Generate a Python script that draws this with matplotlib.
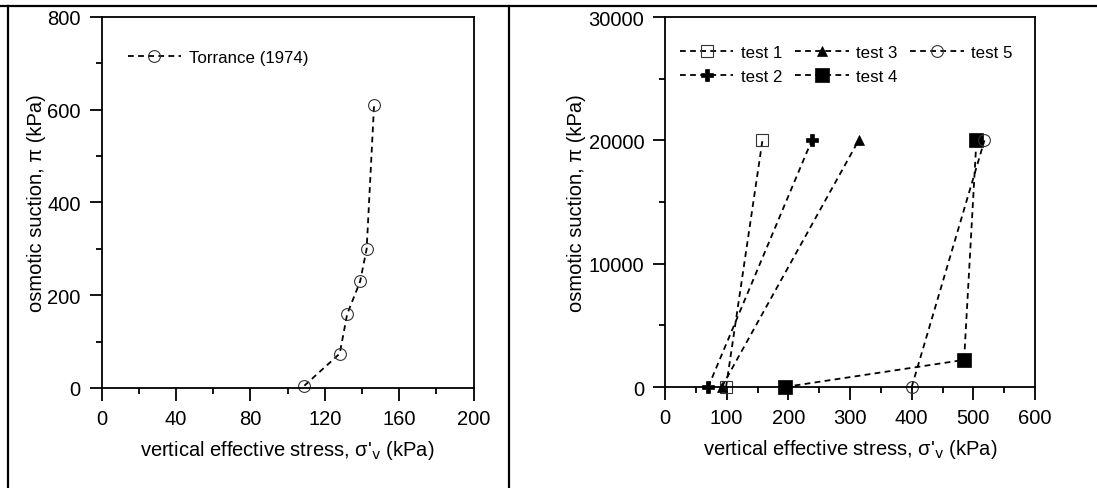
import matplotlib
matplotlib.use('Agg')
import matplotlib.pyplot as plt
from matplotlib import rcParams
from matplotlib.lines import Line2D
from matplotlib.ticker import MultipleLocator

rcParams['font.family'] = ['Liberation Sans', 'DejaVu Sans']
rcParams['mathtext.default'] = 'regular'
rcParams['font.size'] = 14.5

# left panel: Torrance (1974)
torrance_x = [109, 128, 132, 139, 142.5, 146.5]
torrance_y = [5, 74, 159, 230, 300, 611]

# right panel: tests 1-5
test_labels = ['test 1', 'test 2', 'test 3', 'test 4', 'test 5']
test_x = [[99, 158], [70, 238], [92, 314], [194, 485, 505], [400, 518]]
test_y = [[0, 20000], [0, 20000], [0, 20000], [0, 2200, 20000], [0, 20000]]

xlabel = "vertical effective stress, σ'$_{\\rm v}$ (kPa)"
ylabel = 'osmotic suction, π (kPa)'

dash = (0, (3.2, 2.4))
styles = [
    dict(marker='s', ms=8, mfc='none', mec='#333333', mew=0.8),
    dict(marker='P', ms=9, mfc='black', mec='black', mew=0.5),
    dict(marker='^', ms=7, mfc='black', mec='black', mew=0.5),
    dict(marker='s', ms=9.5, mfc='black', mec='black', mew=0.5),
    dict(marker='o', ms=8.5, mfc='none', mec='#333333', mew=0.8),
]


def style_axes(ax):
    for s in ax.spines.values():
        s.set_linewidth(1.3)
    ax.tick_params(which='major', direction='out', length=9, width=1.3, labelsize=14.5, pad=6,
                   top=False, right=False)
    ax.tick_params(which='minor', direction='out', length=4.5, width=1.3, top=False, right=False)
    ax.xaxis.set_label_coords(0.5, -0.165)
    ax.xaxis.label.set_va('center')
    ax.xaxis.label.set_fontsize(14.5)
    ax.yaxis.label.set_va('center')
    ax.yaxis.label.set_fontsize(14.5)


fig = plt.figure(figsize=(10.97, 4.89), dpi=100)

ax1 = fig.add_axes([0.0927, 0.2045, 0.339, 0.7587])
ax1.plot(torrance_x, torrance_y, color='black', lw=1.3, linestyle=dash, clip_on=False,
         marker='o', ms=8.5, mfc='none', mec='#333333', mew=0.8, label='Torrance (1974)')
ax1.set_xlim(0, 200)
ax1.set_ylim(0, 800)
ax1.xaxis.set_major_locator(MultipleLocator(40))
ax1.xaxis.set_minor_locator(MultipleLocator(20))
ax1.yaxis.set_major_locator(MultipleLocator(200))
ax1.yaxis.set_minor_locator(MultipleLocator(100))
ax1.set_xlabel(xlabel)
ax1.set_ylabel(ylabel)
style_axes(ax1)
ax1.yaxis.set_label_coords(-0.174, 0.5)
ax1.legend(loc='upper left', bbox_to_anchor=(0.052, 0.93), frameon=False, fontsize=12.2,
           handlelength=3.15, numpoints=1, borderaxespad=0, handletextpad=0.45)

ax2 = fig.add_axes([0.6062, 0.2065, 0.3373, 0.7566])
for xs, ys, lab, st in zip(test_x, test_y, test_labels, styles):
    ax2.plot(xs, ys, color='black', lw=1.3, linestyle=dash, label=lab, clip_on=False, **st)
ax2.set_xlim(0, 600)
ax2.set_ylim(0, 30000)
ax2.xaxis.set_major_locator(MultipleLocator(100))
ax2.xaxis.set_minor_locator(MultipleLocator(50))
ax2.yaxis.set_major_locator(MultipleLocator(10000))
ax2.yaxis.set_minor_locator(MultipleLocator(5000))
ax2.set_xlabel(xlabel)
ax2.set_ylabel(ylabel)
style_axes(ax2)
ax2.yaxis.set_label_coords(-0.238, 0.5)
ax2.legend(loc='upper left', bbox_to_anchor=(0.022, 0.943), frameon=False, fontsize=12.2,
           ncol=3, handlelength=3.15, numpoints=1, borderaxespad=0, handletextpad=0.45,
           columnspacing=0.75, labelspacing=0.55)

# table borders around the two panels
fig.add_artist(Line2D([0, 1], [0.9867, 0.9867], transform=fig.transFigure, color='black', lw=1.6))
fig.add_artist(Line2D([0.0073, 0.0073], [0, 0.9867], transform=fig.transFigure, color='black', lw=1.6))
fig.add_artist(Line2D([0.464, 0.464], [0, 0.9867], transform=fig.transFigure, color='black', lw=1.6))

fig.savefig('out.png', dpi=100)
